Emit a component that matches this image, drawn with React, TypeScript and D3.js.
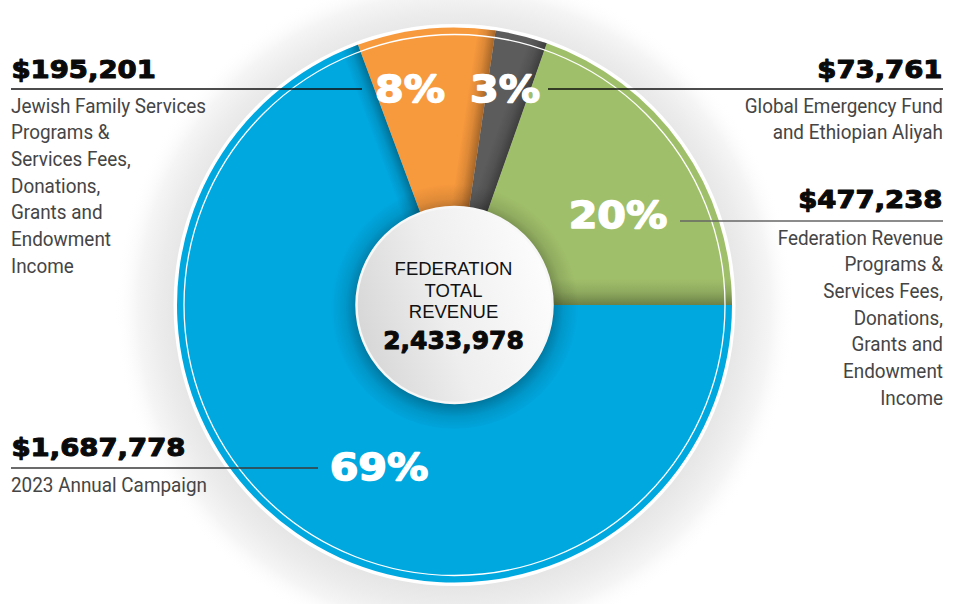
import React from "react";
import * as d3 from "d3";

const categories = ["2023 Annual Campaign", "Jewish Family Services", "Global Emergency Fund", "Federation Revenue"];
const values = [1687778, 195201, 73761, 477238];
const descriptions = [
  ["2023 Annual Campaign"],
  ["Jewish Family Services", "Programs &", "Services Fees,", "Donations,", "Grants and", "Endowment", "Income"],
  ["Global Emergency Fund", "and Ethiopian Aliyah"],
  ["Federation Revenue", "Programs &", "Services Fees,", "Donations,", "Grants and", "Endowment", "Income"],
];
const colors = ["#00A8E0", "#F7993D", "#5C5C5C", "#A0BF6A"];
const centerTitle = ["FEDERATION", "TOTAL", "REVENUE"];

// layout (positions / styles only)
const W = 963, H = 604;
const CX = 454.5, CY = 305, R = 277.5;
const layout = [
  { side: "left", amountY: 456, lineY: 468, lineX: 318, pctX: 379, pctY: 479.5, lineColor: "#3a3a3a" },
  { side: "left", amountY: 78, lineY: 89, lineX: 362, pctX: 410, pctY: 101.7, lineColor: "#111" },
  { side: "right", amountY: 77.5, lineY: 89, lineX: 548, pctX: 505, pctY: 101.7, lineColor: "#111" },
  { side: "right", amountY: 208, lineY: 221, lineX: 680, pctX: 618, pctY: 228.3, lineColor: "#666" },
];
const LEFT_X = 11, RIGHT_X = 943;
const HEAVY = "'DejaVu Sans', sans-serif";
const DESC = "Roboto, sans-serif";

export default function App() {
  const total = d3.sum(values);
  const pie = d3.pie<number>().sort(null).value((d) => d).startAngle(Math.PI / 2).endAngle(Math.PI / 2 + 2 * Math.PI);
  const arcs = pie(values);
  const arc = d3.arc<any>().innerRadius(0).outerRadius(R);
  const fmtAmt = d3.format("$,");
  const fmtPct = d3.format(".0%");
  const fmtTot = d3.format(",");

  return (
    <svg width={W} height={H} style={{ position: "absolute", left: 0, top: 0, background: "#fff" }}>
      <defs>
        <radialGradient id="halo" gradientUnits="userSpaceOnUse" cx={CX} cy={CY + 4} r={340}>
          <stop offset={0.8} stopColor="#e4e4e4" />
          <stop offset={0.87} stopColor="#ececec" />
          <stop offset={0.93} stopColor="#f5f5f5" />
          <stop offset={1} stopColor="#ffffff" stopOpacity={0} />
        </radialGradient>
        <radialGradient id="cshadow" gradientUnits="userSpaceOnUse" cx={0} cy={3} r={124}>
          <stop offset={0.76} stopColor="#000" stopOpacity={0.32} />
          <stop offset={0.88} stopColor="#000" stopOpacity={0.1} />
          <stop offset={1} stopColor="#000" stopOpacity={0} />
        </radialGradient>
        <linearGradient id="cfill" x1="0" y1="0.65" x2="1" y2="0.35">
          <stop offset={0} stopColor="#d6d6d6" />
          <stop offset={0.45} stopColor="#eeeeee" />
          <stop offset={1} stopColor="#fdfdfd" />
        </linearGradient>
        {arcs.map((a, i) => {
          const t = a.endAngle;
          const w = i === 3 ? 26 : 18;
          const dark = d3.color(colors[i])!.darker(1.6).formatHex();
          return (
            <linearGradient key={i} id={`sh${i}`} gradientUnits="userSpaceOnUse" x1={0} y1={0} x2={-Math.cos(t) * w} y2={-Math.sin(t) * w}>
              <stop offset={0} stopColor={dark} stopOpacity={0.75} />
              <stop offset={0.5} stopColor={dark} stopOpacity={0.25} />
              <stop offset={1} stopColor={dark} stopOpacity={0} />
            </linearGradient>
          );
        })}
      </defs>

      <circle cx={CX} cy={CY + 4} r={340} fill="url(#halo)" />
      <g transform={`translate(${CX},${CY})`}>
        <circle r={281} fill="#fff" />
        {arcs.map((a, i) => (
          <path key={i} d={arc(a) as string} fill={colors[i]} />
        ))}
        {arcs.map((a, i) => {
          const span = a.endAngle - a.startAngle;
          const d = arc({ startAngle: a.endAngle - Math.min(span, 0.6), endAngle: a.endAngle }) as string;
          return <path key={`s${i}`} d={d} fill={`url(#sh${i})`} />;
        })}
        <circle r={270.5} fill="none" stroke="#fff" strokeWidth={1.3} />
        <circle r={124} fill="url(#cshadow)" />
        <circle r={98} fill="url(#cfill)" stroke="#f7f7f7" strokeWidth={2.5} />
        {centerTitle.map((t, i) => (
          <text key={t} x={-1} y={-30 + i * 21.5} textAnchor="middle" fontFamily="'Liberation Sans', Arial, sans-serif" fontSize={18.5} fill="#111">
            {t}
          </text>
        ))}
        <text transform={`translate(-1,44.3) scale(1.02,1)`} textAnchor="middle" fontFamily={HEAVY} fontWeight="bold" fontSize={24.5} fill="#0a0a0a" stroke="#0a0a0a" strokeWidth={1} strokeLinejoin="round">
          {fmtTot(total)}
        </text>
      </g>

      {arcs.map((a, i) => {
        const L = layout[i];
        const left = L.side === "left";
        const ax = left ? LEFT_X : RIGHT_X;
        const anchor = left ? "start" : "end";
        return (
          <g key={`lab${i}`}>
            <line x1={left ? LEFT_X : L.lineX} x2={left ? L.lineX : RIGHT_X} y1={L.lineY} y2={L.lineY} stroke={L.lineColor} strokeWidth={1.3} />
            <text transform={`translate(${ax + (left ? 0.5 : -0.5)},${L.amountY}) scale(1.1,1)`} textAnchor={anchor} fontFamily={HEAVY} fontWeight="bold" fontSize={25} fill="#0a0a0a" stroke="#0a0a0a" strokeWidth={1.1} strokeLinejoin="round">
              {fmtAmt(values[i])}
            </text>
            {descriptions[i].map((t, j) => (
              <text key={j} transform={`translate(${ax},${L.lineY + 23.5 + j * 26.67}) scale(0.9,1)`} textAnchor={anchor} fontFamily={DESC} fontSize={21} fill="#454545">
                {t}
              </text>
            ))}
            <text transform={`translate(${L.pctX},${L.pctY}) scale(1.1,1)`} textAnchor="middle" fontFamily={HEAVY} fontWeight="bold" fontSize={37.5} fill="#fff" stroke="#fff" strokeWidth={1.5} strokeLinejoin="round">
              {fmtPct(values[i] / total)}
            </text>
          </g>
        );
      })}
    </svg>
  );
}
